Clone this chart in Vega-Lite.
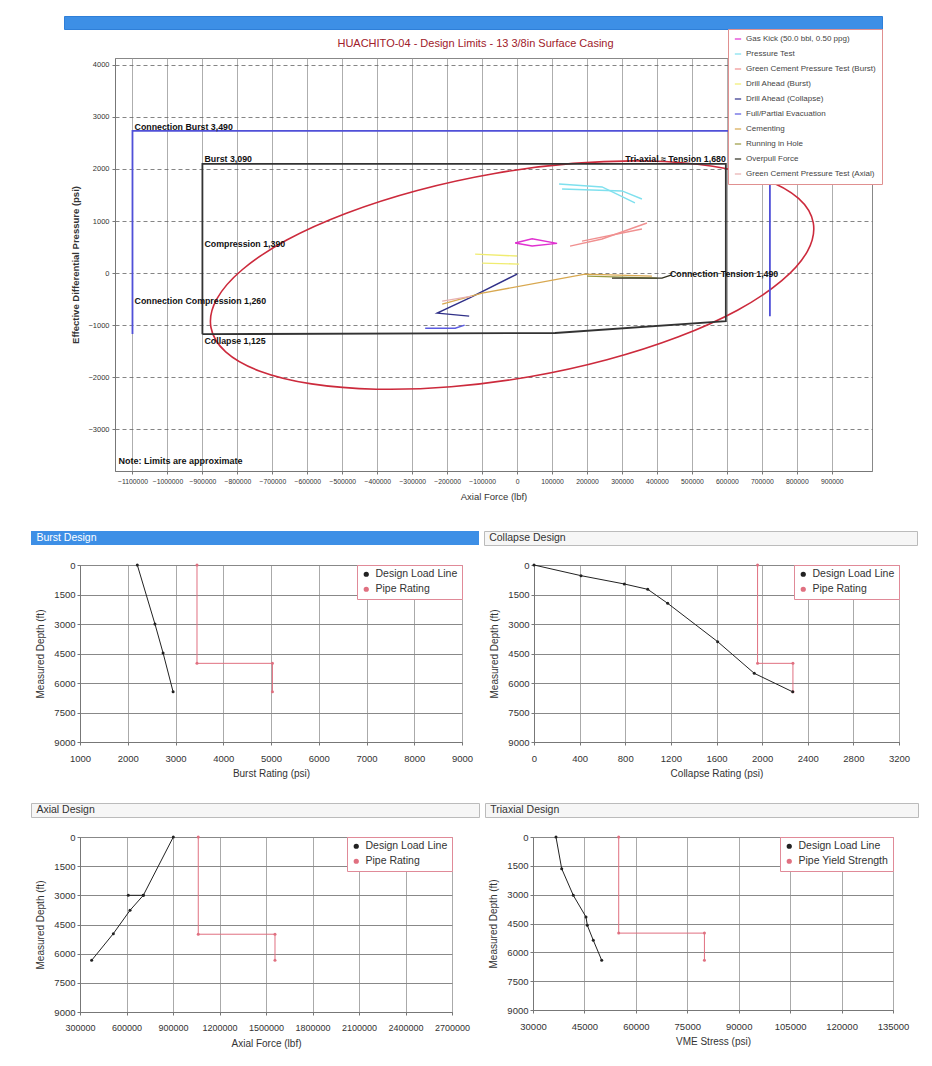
{
  "$schema": "https://vega.github.io/schema/vega-lite/v6.json",
  "background": "white",
  "padding": {"left": 30, "top": 15, "right": 4, "bottom": 2},
  "config": {
    "font": "Liberation Sans",
    "view": {"stroke": "#888"},
    "axis": {"labelFontSize": 9.5, "labelColor": "#333", "titleFontSize": 10, "titleFontWeight": "normal", "titleColor": "#333", "gridColor": "#aaa", "domainColor": "#777", "tickColor": "#777", "tickSize": 3, "labelPadding": 3, "titlePadding": 6, "labelFlush": false, "labelOverlap": false},
    "axisX": {"labelPadding": 8, "titlePadding": 6},
    "axisY": {"labelPadding": 2, "titlePadding": 8}
  },
  "spacing": 28,
  "resolve": {"scale": {"color": "independent"}},
  "vconcat": [
    {
      "spacing": 7,
      "vconcat": [
        {
          "spacing": 0,
          "hconcat": [
            {"width": 32, "height": 1, "view": {"stroke": null}, "data": {"values": []}, "mark": {"type": "text"}, "encoding": {"text": {"field": "t"}}},
            {
              "width": 818, "height": 13,
              "view": {"fill": "#3d8fe6", "stroke": "#2f7fd8"},
              "data": {"values": []},
              "mark": {"type": "text"},
              "encoding": {"text": {"field": "t"}}
            }
          ]
        },
        {
          "spacing": 0,
          "hconcat": [
            {"width": 39, "height": 1, "view": {"stroke": null}, "data": {"values": []}, "mark": {"type": "text"}, "encoding": {"text": {"field": "t"}}},
            {
              "width": 757, "height": 413,
              "title": {"text": "HUACHITO-04 - Design Limits - 13 3/8in Surface Casing", "color": "#a0202a", "fontSize": 11, "fontWeight": "normal", "offset": 9, "dx": -18},
              "view": {"stroke": "#888"},
              "encoding": {
                "x": {"field": "x", "type": "quantitative", "scale": {"domain": [-1150000, 1015000], "nice": false, "zero": false},
                  "axis": {"title": "Axial Force (lbf)", "values": [-1100000, -1000000, -900000, -800000, -700000, -600000, -500000, -400000, -300000, -200000, -100000, 0, 100000, 200000, 300000, 400000, 500000, 600000, 700000, 800000, 900000], "format": "d", "labelFontSize": 6.8, "titleFontSize": 9.5, "gridColor": "#999", "gridWidth": 0.8, "labelPadding": 4, "titlePadding": 7}},
                "y": {"field": "y", "type": "quantitative", "scale": {"domain": [-3800, 4130], "nice": false, "zero": false},
                  "axis": {"title": "Effective Differential Pressure (psi)", "values": [-3000, -2000, -1000, 0, 1000, 2000, 3000, 4000], "format": "d", "labelFontSize": 7.5, "titleFontSize": 9.5, "titleFontWeight": "bold", "gridColor": "#666", "gridDash": [4, 3], "gridWidth": 0.8, "labelPadding": 3, "titlePadding": 7}}
              },
              "layer": [
                {
                  "data": {"values": [
                    {"i": 0, "x": 847100, "y": 963}, {"i": 1, "x": 830600, "y": 423}, {"i": 2, "x": 756900, "y": -146}, {"i": 3, "x": 630300, "y": -712},
                    {"i": 4, "x": 459700, "y": -1227}, {"i": 5, "x": 256900, "y": -1663}, {"i": 6, "x": 35700, "y": -1990}, {"i": 7, "x": -188900, "y": -2183},
                    {"i": 8, "x": -401700, "y": -2229}, {"i": 9, "x": -588000, "y": -2127}, {"i": 10, "x": -735400, "y": -1883}, {"i": 11, "x": -833400, "y": -1512},
                    {"i": 12, "x": -875700, "y": -1040}, {"i": 13, "x": -859100, "y": -500}, {"i": 14, "x": -785400, "y": 69}, {"i": 15, "x": -658900, "y": 635},
                    {"i": 16, "x": -488300, "y": 1150}, {"i": 17, "x": -285400, "y": 1587}, {"i": 18, "x": -64300, "y": 1913}, {"i": 19, "x": 160300, "y": 2106},
                    {"i": 20, "x": 373100, "y": 2152}, {"i": 21, "x": 559400, "y": 2050}, {"i": 22, "x": 706900, "y": 1804}, {"i": 23, "x": 804900, "y": 1435}
                  ]},
                  "mark": {"type": "line", "interpolate": "cardinal-closed", "color": "#cc2a3c", "strokeWidth": 1.6},
                  "encoding": {"order": {"field": "i"}}
                },
                {
                  "data": {"values": [
                    {"i": 0, "x": -1100000, "y": -1170}, {"i": 1, "x": -1100000, "y": 2730}, {"i": 2, "x": 723000, "y": 2730}, {"i": 3, "x": 723000, "y": -830}
                  ]},
                  "mark": {"type": "line", "color": "#5050d8", "strokeWidth": 1.8},
                  "encoding": {"order": {"field": "i"}}
                },
                {
                  "data": {"values": [
                    {"i": 0, "x": -900000, "y": -1173}, {"i": 1, "x": -900000, "y": 2096}, {"i": 2, "x": 597000, "y": 2096}, {"i": 3, "x": 597000, "y": -923},
                    {"i": 4, "x": 108600, "y": -1150}, {"i": 5, "x": -900000, "y": -1173}
                  ]},
                  "mark": {"type": "line", "color": "#333333", "strokeWidth": 1.8},
                  "encoding": {"order": {"field": "i"}}
                },
                {
                  "data": {"values": [
                    {"s": "Gas Kick (50.0 bbl, 0.50 ppg)", "g": "gk", "i": 0, "x": -5700, "y": 577},
                    {"s": "Gas Kick (50.0 bbl, 0.50 ppg)", "g": "gk", "i": 1, "x": 42900, "y": 660},
                    {"s": "Gas Kick (50.0 bbl, 0.50 ppg)", "g": "gk", "i": 2, "x": 114300, "y": 570},
                    {"s": "Gas Kick (50.0 bbl, 0.50 ppg)", "g": "gk", "i": 3, "x": 42900, "y": 520},
                    {"s": "Gas Kick (50.0 bbl, 0.50 ppg)", "g": "gk", "i": 4, "x": -5700, "y": 577},
                    {"s": "Pressure Test", "g": "pt1", "i": 0, "x": 120000, "y": 1711},
                    {"s": "Pressure Test", "g": "pt1", "i": 1, "x": 243000, "y": 1654},
                    {"s": "Pressure Test", "g": "pt1", "i": 2, "x": 337000, "y": 1346},
                    {"s": "Pressure Test", "g": "pt2", "i": 0, "x": 128600, "y": 1615},
                    {"s": "Pressure Test", "g": "pt2", "i": 1, "x": 300000, "y": 1577},
                    {"s": "Pressure Test", "g": "pt2", "i": 2, "x": 357000, "y": 1423},
                    {"s": "Green Cement Pressure Test (Burst)", "g": "gb1", "i": 0, "x": 151400, "y": 519},
                    {"s": "Green Cement Pressure Test (Burst)", "g": "gb1", "i": 1, "x": 243000, "y": 654},
                    {"s": "Green Cement Pressure Test (Burst)", "g": "gb1", "i": 2, "x": 371400, "y": 962},
                    {"s": "Green Cement Pressure Test (Burst)", "g": "gb2", "i": 0, "x": 185700, "y": 615},
                    {"s": "Green Cement Pressure Test (Burst)", "g": "gb2", "i": 1, "x": 357000, "y": 846},
                    {"s": "Drill Ahead (Burst)", "g": "da1", "i": 0, "x": -120000, "y": 365},
                    {"s": "Drill Ahead (Burst)", "g": "da1", "i": 1, "x": 0, "y": 327},
                    {"s": "Drill Ahead (Burst)", "g": "da2", "i": 0, "x": -100000, "y": 192},
                    {"s": "Drill Ahead (Burst)", "g": "da2", "i": 1, "x": 5700, "y": 173},
                    {"s": "Drill Ahead (Collapse)", "g": "dc", "i": 0, "x": 0, "y": -19},
                    {"s": "Drill Ahead (Collapse)", "g": "dc", "i": 1, "x": -137100, "y": -481},
                    {"s": "Drill Ahead (Collapse)", "g": "dc", "i": 2, "x": -228600, "y": -769},
                    {"s": "Drill Ahead (Collapse)", "g": "dc", "i": 3, "x": -137100, "y": -827},
                    {"s": "Full/Partial Evacuation", "g": "fe", "i": 0, "x": -262900, "y": -1058},
                    {"s": "Full/Partial Evacuation", "g": "fe", "i": 1, "x": -177100, "y": -1058},
                    {"s": "Full/Partial Evacuation", "g": "fe", "i": 2, "x": -150000, "y": -1000},
                    {"s": "Cementing", "g": "ce", "i": 0, "x": -214300, "y": -596},
                    {"s": "Cementing", "g": "ce", "i": 1, "x": -100000, "y": -385},
                    {"s": "Cementing", "g": "ce", "i": 2, "x": 194300, "y": -19},
                    {"s": "Cementing", "g": "ce", "i": 3, "x": 385700, "y": -58},
                    {"s": "Running in Hole", "g": "rh", "i": 0, "x": 200000, "y": -58},
                    {"s": "Running in Hole", "g": "rh", "i": 1, "x": 400000, "y": -96},
                    {"s": "Overpull Force", "g": "op", "i": 0, "x": 271400, "y": -96},
                    {"s": "Overpull Force", "g": "op", "i": 1, "x": 414300, "y": -96},
                    {"s": "Overpull Force", "g": "op", "i": 2, "x": 440000, "y": -40},
                    {"s": "Green Cement Pressure Test (Axial)", "g": "ga", "i": 0, "x": -214300, "y": -538},
                    {"s": "Green Cement Pressure Test (Axial)", "g": "ga", "i": 1, "x": -128600, "y": -442}
                  ]},
                  "mark": {"type": "line", "strokeWidth": 1.4},
                  "encoding": {
                    "order": {"field": "i"},
                    "detail": {"field": "g"},
                    "color": {"field": "s", "type": "nominal",
                      "scale": {"domain": ["Gas Kick (50.0 bbl, 0.50 ppg)", "Pressure Test", "Green Cement Pressure Test (Burst)", "Drill Ahead (Burst)", "Drill Ahead (Collapse)", "Full/Partial Evacuation", "Cementing", "Running in Hole", "Overpull Force", "Green Cement Pressure Test (Axial)"],
                        "range": ["#e030d0", "#7fe0ee", "#f09090", "#f0ec70", "#303088", "#5a5ae0", "#d8a850", "#9a9a40", "#303020", "#e8b0b0"]},
                      "legend": {"title": null, "orient": "none", "legendX": 697, "legendY": 13, "fillColor": "white", "strokeColor": "#e09090", "padding": 6, "labelFontSize": 8, "labelColor": "#444", "symbolType": "stroke", "symbolSize": 40, "symbolStrokeWidth": 1.2, "rowPadding": 7, "labelLimit": 160}}
                  }
                },
                {
                  "data": {"values": [
                    {"t": "Connection Burst 3,490", "x": -1094000, "y": 2808},
                    {"t": "Burst 3,090", "x": -894000, "y": 2192},
                    {"t": "Compression 1,390", "x": -894000, "y": 557},
                    {"t": "Connection Compression 1,260", "x": -1094000, "y": -538},
                    {"t": "Collapse 1,125", "x": -894000, "y": -1300},
                    {"t": "Connection Tension 1,490", "x": 437000, "y": -19}
                  ]},
                  "mark": {"type": "text", "align": "left", "baseline": "middle", "fontSize": 8.8, "fontWeight": "bold", "color": "#111"},
                  "encoding": {"text": {"field": "t"}}
                },
                {
                  "data": {"values": [
                    {"t": "Tri-axial ≈ Tension 1,680", "x": 597000, "y": 2192}
                  ]},
                  "mark": {"type": "text", "align": "right", "baseline": "middle", "fontSize": 8.8, "fontWeight": "bold", "color": "#111"},
                  "encoding": {"text": {"field": "t"}}
                },
                {
                  "data": {"values": [
                    {"t": "Note: Limits are approximate", "x": -1140000, "y": -3615}
                  ]},
                  "mark": {"type": "text", "align": "left", "baseline": "middle", "fontSize": 9, "fontWeight": "bold", "color": "#111"},
                  "encoding": {"text": {"field": "t"}}
                }
              ]
            }
          ]
        }
      ]
    },
    {
      "spacing": 23,
      "vconcat": [
        {
          "spacing": 13,
          "vconcat": [
            {
              "spacing": 4,
              "hconcat": [
                {
                  "width": 448, "height": 14,
                  "view": {"fill": "#3d8fe6", "stroke": null},
                  "data": {"values": [{"t": "Burst Design", "p": 0.012}]},
                  "mark": {"type": "text", "align": "left", "baseline": "middle", "color": "white", "fontSize": 10.5},
                  "encoding": {"text": {"field": "t"}, "x": {"field": "p", "type": "quantitative", "scale": {"domain": [0, 1]}, "axis": null}}
                },
                {
                  "width": 433, "height": 14,
                  "view": {"fill": "#f6f6f6", "stroke": "#bbb"},
                  "data": {"values": [{"t": "Collapse Design", "p": 0.012}]},
                  "mark": {"type": "text", "align": "left", "baseline": "middle", "color": "#333", "fontSize": 10.5},
                  "encoding": {"text": {"field": "t"}, "x": {"field": "p", "type": "quantitative", "scale": {"domain": [0, 1]}, "axis": null}}
                }
              ]
            },
            {
              "spacing": 0,
              "hconcat": [
                {"width": 4, "height": 1, "view": {"stroke": null}, "data": {"values": []}, "mark": {"type": "text"}, "encoding": {"text": {"field": "t"}}},
                {
                  "spacing": 15,
                  "resolve": {"scale": {"color": "independent"}},
                  "hconcat": [
                    {
                      "width": 382, "height": 177,
                      "data": {"values": [
                        {"s": "Design Load Line", "i": 0, "x": 2200, "d": 0},
                        {"s": "Design Load Line", "i": 1, "x": 2570, "d": 3000},
                        {"s": "Design Load Line", "i": 2, "x": 2740, "d": 4475},
                        {"s": "Design Load Line", "i": 3, "x": 2950, "d": 6450},
                        {"s": "Pipe Rating", "i": 0, "x": 3450, "d": 0},
                        {"s": "Pipe Rating", "i": 1, "x": 3450, "d": 5000},
                        {"s": "Pipe Rating", "i": 2, "x": 5030, "d": 5000},
                        {"s": "Pipe Rating", "i": 3, "x": 5030, "d": 6450}
                      ]},
                      "mark": {"type": "line", "strokeWidth": 1, "point": {"size": 9, "filled": true}},
                      "encoding": {
                        "x": {"field": "x", "type": "quantitative", "scale": {"domain": [1000, 9000], "nice": false, "zero": false}, "axis": {"title": "Burst Rating (psi)", "format": "d", "values": [1000, 2000, 3000, 4000, 5000, 6000, 7000, 8000, 9000]}},
                        "y": {"field": "d", "type": "quantitative", "scale": {"domain": [0, 9000], "nice": false, "reverse": true}, "axis": {"title": "Measured Depth (ft)", "format": "d", "values": [0, 1500, 3000, 4500, 6000, 7500, 9000], "gridColor": "#888"}},
                        "order": {"field": "i"},
                        "color": {"field": "s", "type": "nominal", "scale": {"domain": ["Design Load Line", "Pipe Rating"], "range": ["#222222", "#e07080"]},
                          "legend": {"title": null, "orient": "top-right", "offset": 0, "fillColor": "white", "strokeColor": "#e08a98", "padding": 4, "labelFontSize": 10.5, "labelColor": "#333", "symbolSize": 14, "symbolType": "circle", "rowPadding": 4}}
                      }
                    },
                    {
                      "width": 365, "height": 177,
                      "data": {"values": [
                        {"s": "Design Load Line", "i": 0, "x": 0, "d": 0},
                        {"s": "Design Load Line", "i": 1, "x": 412, "d": 542},
                        {"s": "Design Load Line", "i": 2, "x": 792, "d": 966},
                        {"s": "Design Load Line", "i": 3, "x": 997, "d": 1237},
                        {"s": "Design Load Line", "i": 4, "x": 1172, "d": 1949},
                        {"s": "Design Load Line", "i": 5, "x": 1610, "d": 3898},
                        {"s": "Design Load Line", "i": 6, "x": 1931, "d": 5508},
                        {"s": "Design Load Line", "i": 7, "x": 2268, "d": 6450},
                        {"s": "Pipe Rating", "i": 0, "x": 1960, "d": 0},
                        {"s": "Pipe Rating", "i": 1, "x": 1960, "d": 5000},
                        {"s": "Pipe Rating", "i": 2, "x": 2270, "d": 5000},
                        {"s": "Pipe Rating", "i": 3, "x": 2270, "d": 6450}
                      ]},
                      "mark": {"type": "line", "strokeWidth": 1, "point": {"size": 9, "filled": true}},
                      "encoding": {
                        "x": {"field": "x", "type": "quantitative", "scale": {"domain": [0, 3200], "nice": false}, "axis": {"title": "Collapse Rating (psi)", "format": "d", "values": [0, 400, 800, 1200, 1600, 2000, 2400, 2800, 3200]}},
                        "y": {"field": "d", "type": "quantitative", "scale": {"domain": [0, 9000], "nice": false, "reverse": true}, "axis": {"title": "Measured Depth (ft)", "format": "d", "values": [0, 1500, 3000, 4500, 6000, 7500, 9000], "gridColor": "#888"}},
                        "order": {"field": "i"},
                        "color": {"field": "s", "type": "nominal", "scale": {"domain": ["Design Load Line", "Pipe Rating"], "range": ["#222222", "#e07080"]},
                          "legend": {"title": null, "orient": "top-right", "offset": 0, "fillColor": "white", "strokeColor": "#e08a98", "padding": 4, "labelFontSize": 10.5, "labelColor": "#333", "symbolSize": 14, "symbolType": "circle", "rowPadding": 4}}
                      }
                    }
                  ]
                }
              ]
            }
          ]
        },
        {
          "spacing": 13,
          "vconcat": [
            {
              "spacing": 4,
              "hconcat": [
                {
                  "width": 448, "height": 14,
                  "view": {"fill": "#f6f6f6", "stroke": "#bbb"},
                  "data": {"values": [{"t": "Axial Design", "p": 0.012}]},
                  "mark": {"type": "text", "align": "left", "baseline": "middle", "color": "#333", "fontSize": 10.5},
                  "encoding": {"text": {"field": "t"}, "x": {"field": "p", "type": "quantitative", "scale": {"domain": [0, 1]}, "axis": null}}
                },
                {
                  "width": 433, "height": 14,
                  "view": {"fill": "#f6f6f6", "stroke": "#bbb"},
                  "data": {"values": [{"t": "Triaxial Design", "p": 0.012}]},
                  "mark": {"type": "text", "align": "left", "baseline": "middle", "color": "#333", "fontSize": 10.5},
                  "encoding": {"text": {"field": "t"}, "x": {"field": "p", "type": "quantitative", "scale": {"domain": [0, 1]}, "axis": null}}
                }
              ]
            },
            {
              "spacing": 0,
              "hconcat": [
                {"width": 4, "height": 1, "view": {"stroke": null}, "data": {"values": []}, "mark": {"type": "text"}, "encoding": {"text": {"field": "t"}}},
                {
                  "spacing": 17,
                  "resolve": {"scale": {"color": "independent"}},
                  "hconcat": [
                    {
                      "width": 372, "height": 175,
                      "data": {"values": [
                        {"s": "Design Load Line", "g": "a", "i": 0, "x": 902000, "d": 0},
                        {"s": "Design Load Line", "g": "a", "i": 1, "x": 708400, "d": 3000},
                        {"s": "Design Load Line", "g": "a", "i": 2, "x": 622600, "d": 3771},
                        {"s": "Design Load Line", "g": "a", "i": 3, "x": 515000, "d": 4971},
                        {"s": "Design Load Line", "g": "a", "i": 4, "x": 375000, "d": 6343},
                        {"s": "Design Load Line", "g": "b", "i": 0, "x": 611600, "d": 3000},
                        {"s": "Design Load Line", "g": "b", "i": 1, "x": 708400, "d": 3000},
                        {"s": "Pipe Rating", "g": "c", "i": 0, "x": 1063000, "d": 0},
                        {"s": "Pipe Rating", "g": "c", "i": 1, "x": 1063000, "d": 5000},
                        {"s": "Pipe Rating", "g": "c", "i": 2, "x": 1558000, "d": 5000},
                        {"s": "Pipe Rating", "g": "c", "i": 3, "x": 1558000, "d": 6343}
                      ]},
                      "mark": {"type": "line", "strokeWidth": 1, "point": {"size": 9, "filled": true}},
                      "encoding": {
                        "x": {"field": "x", "type": "quantitative", "scale": {"domain": [300000, 2700000], "nice": false, "zero": false}, "axis": {"title": "Axial Force (lbf)", "values": [300000, 600000, 900000, 1200000, 1500000, 1800000, 2100000, 2400000, 2700000], "format": "d", "labelFontSize": 9}},
                        "y": {"field": "d", "type": "quantitative", "scale": {"domain": [0, 9000], "nice": false, "reverse": true}, "axis": {"title": "Measured Depth (ft)", "format": "d", "values": [0, 1500, 3000, 4500, 6000, 7500, 9000], "gridColor": "#888"}},
                        "order": {"field": "i"},
                        "detail": {"field": "g"},
                        "color": {"field": "s", "type": "nominal", "scale": {"domain": ["Design Load Line", "Pipe Rating"], "range": ["#222222", "#e07080"]},
                          "legend": {"title": null, "orient": "top-right", "offset": 0, "fillColor": "white", "strokeColor": "#e08a98", "padding": 4, "labelFontSize": 10.5, "labelColor": "#333", "symbolSize": 14, "symbolType": "circle", "rowPadding": 4}}
                      }
                    },
                    {
                      "width": 360, "height": 173,
                      "data": {"values": [
                        {"s": "Design Load Line", "i": 0, "x": 36700, "d": 0},
                        {"s": "Design Load Line", "i": 1, "x": 38370, "d": 1648},
                        {"s": "Design Load Line", "i": 2, "x": 41750, "d": 3034},
                        {"s": "Design Load Line", "i": 3, "x": 45460, "d": 4162},
                        {"s": "Design Load Line", "i": 4, "x": 45840, "d": 4595},
                        {"s": "Design Load Line", "i": 5, "x": 47590, "d": 5374},
                        {"s": "Design Load Line", "i": 6, "x": 50040, "d": 6414},
                        {"s": "Pipe Yield Strength", "i": 0, "x": 55000, "d": 0},
                        {"s": "Pipe Yield Strength", "i": 1, "x": 55000, "d": 5000},
                        {"s": "Pipe Yield Strength", "i": 2, "x": 80000, "d": 5000},
                        {"s": "Pipe Yield Strength", "i": 3, "x": 80000, "d": 6414}
                      ]},
                      "mark": {"type": "line", "strokeWidth": 1, "point": {"size": 9, "filled": true}},
                      "encoding": {
                        "x": {"field": "x", "type": "quantitative", "scale": {"domain": [30000, 135000], "nice": false, "zero": false}, "axis": {"title": "VME Stress (psi)", "values": [30000, 45000, 60000, 75000, 90000, 105000, 120000, 135000], "format": "d"}},
                        "y": {"field": "d", "type": "quantitative", "scale": {"domain": [0, 9000], "nice": false, "reverse": true}, "axis": {"title": "Measured Depth (ft)", "format": "d", "values": [0, 1500, 3000, 4500, 6000, 7500, 9000], "gridColor": "#888"}},
                        "order": {"field": "i"},
                        "color": {"field": "s", "type": "nominal", "scale": {"domain": ["Design Load Line", "Pipe Yield Strength"], "range": ["#222222", "#e07080"]},
                          "legend": {"title": null, "orient": "top-right", "offset": 0, "fillColor": "white", "strokeColor": "#e08a98", "padding": 4, "labelFontSize": 10.5, "labelColor": "#333", "symbolSize": 14, "symbolType": "circle", "rowPadding": 4}}
                      }
                    }
                  ]
                }
              ]
            }
          ]
        }
      ]
    }
  ]
}
